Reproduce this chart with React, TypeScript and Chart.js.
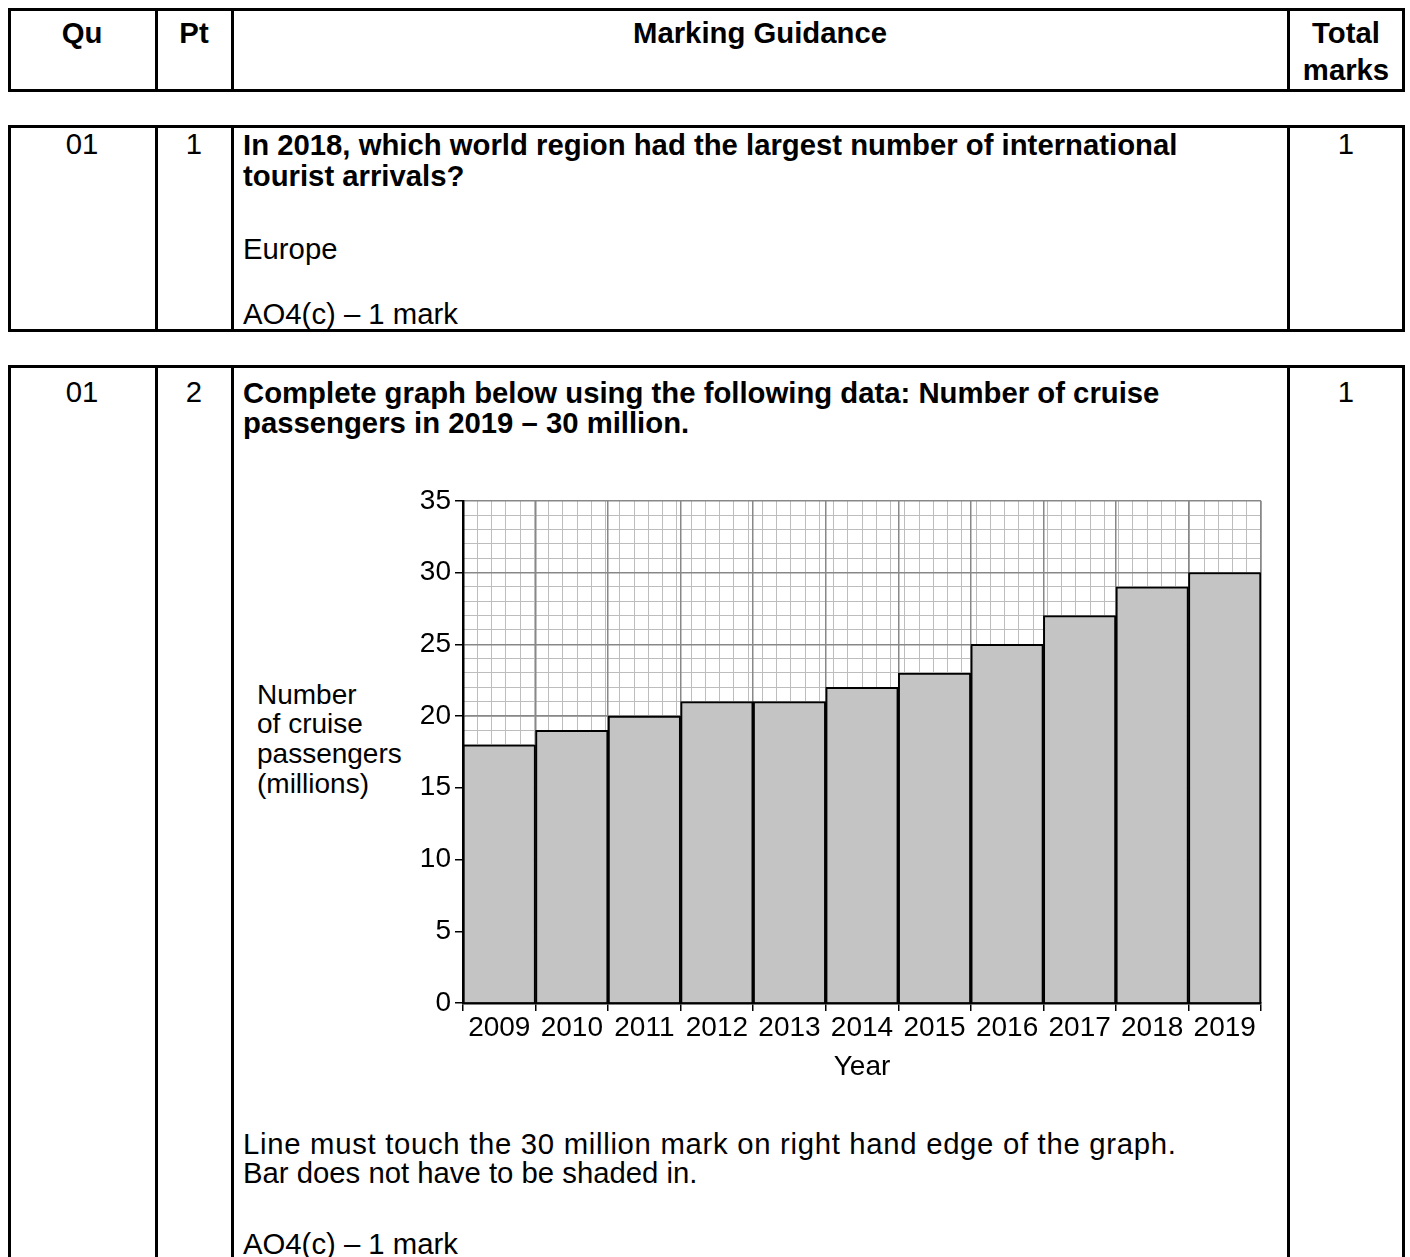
import React, { useEffect, useRef } from 'react';
import { Chart, registerables } from 'chart.js';

Chart.register(...registerables);

// ---- chart data ----
const yearLabels = ['2009', '2010', '2011', '2012', '2013', '2014', '2015', '2016', '2017', '2018', '2019'];
const passengerMillions = [18, 19, 20, 21, 21, 22, 23, 25, 27, 29, 30];
const yMin = 0;
const yMax = 35;
const yMajorStep = 5;
const yMinorStep = 1;
const xMinorStep = 0.2;
const xAxisTitle = 'Year';
const yAxisTitleLines = ['Number', 'of cruise', 'passengers', '(millions)'];

const FONT = '"Liberation Sans", Arial, Helvetica, sans-serif';

function CruiseChart() {
  const ref = useRef<HTMLCanvasElement | null>(null);
  useEffect(() => {
    if (!ref.current) return;
    const tickFont = { family: FONT, size: 28, lineHeight: 1.2 };
    const chart = new Chart(ref.current, {
      type: 'bar',
      data: {
        labels: yearLabels,
        datasets: [
          {
            data: passengerMillions,
            backgroundColor: '#c4c4c4',
            borderColor: '#000000',
            borderWidth: 2,
            categoryPercentage: 1,
            barPercentage: 1,
            xAxisID: 'x',
            yAxisID: 'y',
          },
        ],
      },
      options: {
        animation: false,
        responsive: false,
        maintainAspectRatio: false,
        events: [],
        layout: { padding: { top: 14, right: 19, bottom: 0, left: 0 } },
        plugins: { legend: { display: false }, tooltip: { enabled: false }, title: { display: false } },
        scales: {
          xMinor: {
            type: 'linear',
            position: 'top',
            min: 0,
            max: yearLabels.length,
            ticks: { display: false, stepSize: xMinorStep, maxTicksLimit: 500 },
            grid: { color: '#bdbdbd', lineWidth: 1, drawTicks: false, z: -2 },
            border: { display: false },
            afterFit: (s: any) => { s.height = 0; },
          },
          yMinor: {
            type: 'linear',
            position: 'right',
            min: yMin,
            max: yMax,
            ticks: { display: false, stepSize: yMinorStep, maxTicksLimit: 500 },
            grid: { color: '#bdbdbd', lineWidth: 1, drawTicks: false, z: -2 },
            border: { display: false },
            afterFit: (s: any) => { s.width = 0; },
          },
          x: {
            type: 'category',
            position: 'bottom',
            offset: true,
            grid: { offset: true, color: '#888888', lineWidth: 1.5, tickColor: '#000000', tickLength: 8, tickWidth: 1.5, z: -1 },
            border: { color: '#000000', width: 2.5 },
            ticks: { color: '#000000', font: tickFont, padding: 0, maxRotation: 0, minRotation: 0, autoSkip: false },
            title: { display: true, text: xAxisTitle, color: '#000000', font: tickFont, padding: { top: 0, bottom: 16 } },
            afterFit: (s: any) => { s.height = 97; },
          },
          y: {
            type: 'linear',
            position: 'left',
            min: yMin,
            max: yMax,
            ticks: { stepSize: yMajorStep, color: '#000000', font: tickFont, padding: 4 },
            grid: { color: '#888888', lineWidth: 1.5, tickColor: '#000000', tickLength: 8, tickWidth: 1.5, z: -1 },
            border: { color: '#000000', width: 2.5 },
            afterFit: (s: any) => { s.width = 63; },
          },
        },
      } as any,
    });
    return () => chart.destroy();
  }, []);
  return (
    <canvas
      ref={ref}
      width={880}
      height={620}
      style={{ position: 'absolute', left: 400, top: 480, width: 880, height: 620 }}
    />
  );
}

type TProps = {
  x: number;
  y: number;
  text: string;
  bold?: boolean;
  center?: boolean;
  size?: number;
  letterSpacing?: number;
};

function T({ x, y, text, bold, center, size, letterSpacing }: TProps) {
  const fs = size ?? 29.3;
  const style: React.CSSProperties = {
    position: 'absolute',
    top: y - 16.5,
    fontFamily: FONT,
    fontSize: fs,
    lineHeight: '33px',
    fontWeight: bold ? 700 : 400,
    color: '#000',
    whiteSpace: 'nowrap',
  };
  if (letterSpacing) style.letterSpacing = letterSpacing;
  if (center) {
    style.left = x - 300;
    style.width = 600;
    style.textAlign = 'center';
  } else {
    style.left = x;
  }
  return <div style={style}>{text}</div>;
}

function Box({ top, height }: { top: number; height: number }) {
  const col = (x: number) => (
    <div style={{ position: 'absolute', left: x, top, width: 3, height, background: '#000' }} />
  );
  return (
    <>
      <div
        style={{
          position: 'absolute',
          left: 8,
          top,
          width: 1397,
          height,
          border: '3px solid #000',
          boxSizing: 'border-box',
        }}
      />
      {col(155)}
      {col(231)}
      {col(1287)}
    </>
  );
}

export default function App() {
  return (
    <div
      style={{
        position: 'absolute',
        left: 0,
        top: 0,
        width: 1410,
        height: 1257,
        overflow: 'hidden',
        background: '#fff',
      }}
    >
      {/* header table */}
      <Box top={8} height={84} />
      <T x={82} y={32} text="Qu" bold center />
      <T x={194} y={32} text="Pt" bold center />
      <T x={760} y={32} text="Marking Guidance" bold center />
      <T x={1346} y={32} text="Total" bold center />
      <T x={1346} y={69} text="marks" bold center />

      {/* question 01.1 */}
      <Box top={125} height={207} />
      <T x={82} y={143} text="01" center />
      <T x={194} y={143} text="1" center />
      <T x={243} y={144} text="In 2018, which world region had the largest number of international" bold />
      <T x={243} y={175} text="tourist arrivals?" bold />
      <T x={243} y={248} text="Europe" />
      <T x={243} y={313} text="AO4(c) – 1 mark" />
      <T x={1346} y={143} text="1" center />

      {/* question 01.2 */}
      <Box top={365} height={910} />
      <T x={82} y={391} text="01" center />
      <T x={194} y={391} text="2" center />
      <T x={243} y={392} text="Complete graph below using the following data: Number of cruise" bold />
      <T x={243} y={422} text="passengers in 2019 – 30 million." bold />
      <T x={1346} y={391} text="1" center />

      {yAxisTitleLines.map((line, i) => (
        <T key={line} x={257} y={694 + i * 29.7} text={line} size={28} />
      ))}
      <CruiseChart />

      <T
        x={243}
        y={1143}
        text="Line must touch the 30 million mark on right hand edge of the graph."
        letterSpacing={0.7}
      />
      <T x={243} y={1172} text="Bar does not have to be shaded in." />
      <T x={243} y={1243} text="AO4(c) – 1 mark" />
    </div>
  );
}
